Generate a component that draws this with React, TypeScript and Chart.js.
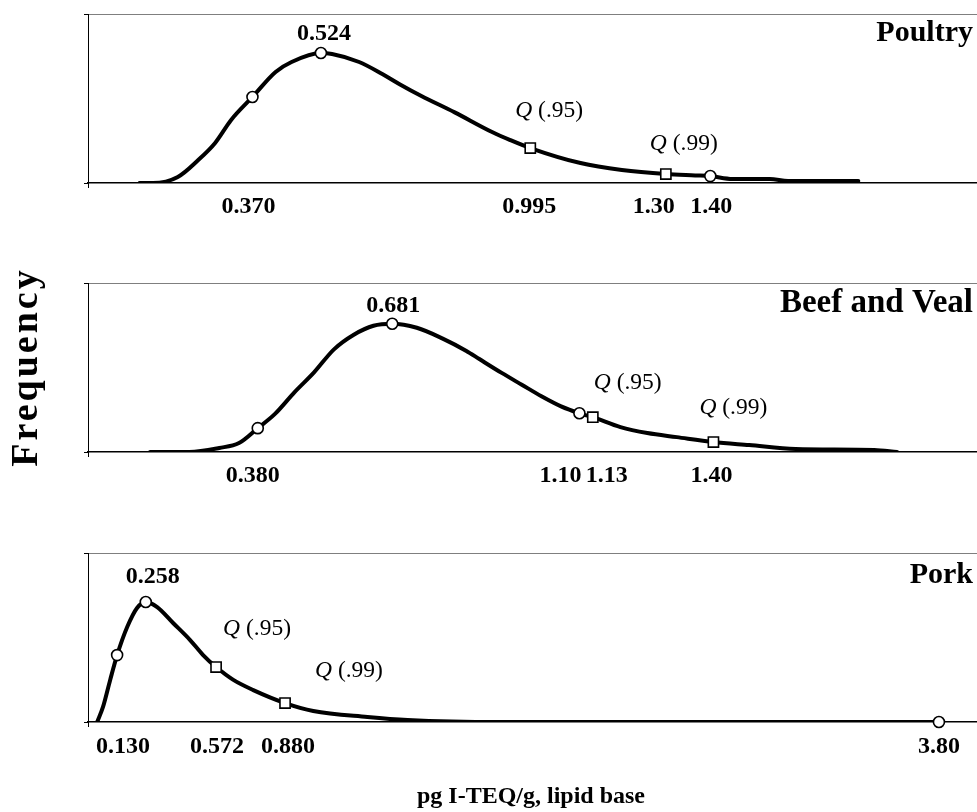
import React, { useEffect, useRef } from 'react';
import { Chart, registerables } from 'chart.js';

Chart.register(...registerables);

const SERIF = '"Liberation Serif", "Times New Roman", Times, serif';

// ---------- Poultry ----------
const poultryCurveX = [0.116, 0.146, 0.202, 0.248, 0.286, 0.322, 0.370, 0.422, 0.458, 0.524, 0.549, 0.610, 0.662, 0.701, 0.750, 0.825, 0.909, 0.950, 0.995, 1.108, 1.201, 1.30, 1.366, 1.40, 1.45, 1.534, 1.575, 1.733];
const poultryCurveY = [0, 0, 0.036, 0.136, 0.237, 0.373, 0.509, 0.657, 0.716, 0.769, 0.763, 0.716, 0.645, 0.585, 0.515, 0.418, 0.302, 0.254, 0.207, 0.118, 0.077, 0.053, 0.045, 0.041, 0.024, 0.024, 0.012, 0.012];
const poultryCircles = [0.370, 0.524, 1.40];
const poultrySquares = [0.995, 1.30];
const poultryValueLabels = ['0.370', '0.524', '0.995', '1.30', '1.40'];
const poultryValueAt = [0.370, 0.524, 0.995, 1.30, 1.40];

// ---------- Beef and Veal ----------
const beefCurveX = [0.139, 0.227, 0.294, 0.338, 0.380, 0.418, 0.462, 0.506, 0.550, 0.595, 0.639, 0.681, 0.736, 0.794, 0.847, 0.876, 0.926, 0.971, 1.015, 1.059, 1.10, 1.13, 1.192, 1.252, 1.318, 1.40, 1.480, 1.584, 1.760, 1.811];
const beefCurveY = [0, 0, 0.024, 0.053, 0.141, 0.224, 0.353, 0.471, 0.606, 0.694, 0.747, 0.759, 0.735, 0.671, 0.598, 0.550, 0.468, 0.398, 0.330, 0.270, 0.229, 0.206, 0.147, 0.112, 0.088, 0.059, 0.041, 0.018, 0.012, 0];
const beefCircles = [0.380, 0.681, 1.10];
const beefSquares = [1.13, 1.40];
const beefValueLabels = ['0.380', '0.681', '1.10', '1.13', '1.40'];
const beefValueAt = [0.380, 0.681, 1.10, 1.13, 1.40];

// ---------- Pork ----------
const porkCurveX = [0.041, 0.067, 0.099, 0.130, 0.175, 0.219, 0.258, 0.309, 0.380, 0.456, 0.514, 0.572, 0.649, 0.738, 0.880, 1.006, 1.248, 1.427, 1.842, 3.80];
const porkCurveY = [0, 0.089, 0.249, 0.396, 0.562, 0.675, 0.710, 0.680, 0.586, 0.485, 0.396, 0.325, 0.249, 0.189, 0.112, 0.065, 0.030, 0.012, 0, 0];
const porkCircles = [0.130, 0.258, 3.80];
const porkSquares = [0.572, 0.880];
const porkValueLabels = ['0.130', '0.258', '0.572', '0.880', '3.80'];
const porkValueAt = [0.130, 0.258, 0.572, 0.880, 3.80];

const quantileLabels = ['(.95)', '(.99)'];
const yAxisLabel = 'Frequency';
const xAxisLabel = 'pg I-TEQ/g, lipid base';

type Place = { mode: 'above' | 'below'; dx: number; dy: number };
type QPlace = { dx: number; dy: number };

interface PanelSpec {
  title: string;
  titleSize: number;
  titleDy: number;
  xMax: number;
  curveX: number[];
  curveY: number[];
  circles: number[];
  squares: number[];
  valueLabels: string[];
  valueAt: number[];
  valuePlace: Place[];
  qPlace: QPlace[];
}

function yAt(xs: number[], ys: number[], v: number): number {
  const i = xs.indexOf(v);
  return i >= 0 ? ys[i] : 0;
}

const panels: PanelSpec[] = [
  {
    title: 'Poultry', titleSize: 30, titleDy: 27, xMax: 2.0,
    curveX: poultryCurveX, curveY: poultryCurveY,
    circles: poultryCircles, squares: poultrySquares,
    valueLabels: poultryValueLabels, valueAt: poultryValueAt,
    valuePlace: [
      { mode: 'below', dx: -4, dy: 30 },
      { mode: 'above', dx: 3, dy: -13 },
      { mode: 'below', dx: -1, dy: 30 },
      { mode: 'below', dx: -12, dy: 30 },
      { mode: 'below', dx: 1, dy: 30 },
    ],
    qPlace: [{ dx: -15, dy: -31 }, { dx: -16, dy: -24 }],
  },
  {
    title: 'Beef and Veal', titleSize: 33, titleDy: 29, xMax: 1.99,
    curveX: beefCurveX, curveY: beefCurveY,
    circles: beefCircles, squares: beefSquares,
    valueLabels: beefValueLabels, valueAt: beefValueAt,
    valuePlace: [
      { mode: 'below', dx: -5, dy: 30 },
      { mode: 'above', dx: 1, dy: -12 },
      { mode: 'below', dx: -19, dy: 30 },
      { mode: 'below', dx: 14, dy: 30 },
      { mode: 'below', dx: -2, dy: 30 },
    ],
    qPlace: [{ dx: 1, dy: -28 }, { dx: -14, dy: -28 }],
  },
  {
    title: 'Pork', titleSize: 30, titleDy: 30, xMax: 3.97,
    curveX: porkCurveX, curveY: porkCurveY,
    circles: porkCircles, squares: porkSquares,
    valueLabels: porkValueLabels, valueAt: porkValueAt,
    valuePlace: [
      { mode: 'below', dx: 6, dy: 31 },
      { mode: 'above', dx: 7, dy: -19 },
      { mode: 'below', dx: 1, dy: 31 },
      { mode: 'below', dx: 3, dy: 31 },
      { mode: 'below', dx: 0, dy: 31 },
    ],
    qPlace: [{ dx: 7, dy: -32 }, { dx: 30, dy: -26 }],
  },
];

const CANVAS_W = 977;
const CANVAS_H = 270;
const PANEL_TOPS = [0, 269, 539];

function Panel({ spec, top }: { spec: PanelSpec; top: number }) {
  const ref = useRef<HTMLCanvasElement | null>(null);

  useEffect(() => {
    if (!ref.current) return;
    const curve = spec.curveX.map((x, i) => ({ x, y: spec.curveY[i] }));
    const circ = spec.circles.map((x) => ({ x, y: yAt(spec.curveX, spec.curveY, x) }));
    const sq = spec.squares.map((x) => ({ x, y: yAt(spec.curveX, spec.curveY, x) }));

    const labelPlugin = {
      id: 'panelLabels',
      afterDatasetsDraw(chart: any) {
        const { ctx, chartArea } = chart;
        const xs = chart.scales.x;
        const ys = chart.scales.y;
        ctx.save();
        ctx.fillStyle = '#000';
        ctx.textBaseline = 'alphabetic';
        // panel title
        ctx.font = `bold ${spec.titleSize}px ${SERIF}`;
        ctx.textAlign = 'right';
        ctx.fillText(spec.title, chartArea.right - 4, chartArea.top + spec.titleDy);
        // value labels
        ctx.font = `bold 24px ${SERIF}`;
        ctx.textAlign = 'center';
        spec.valueLabels.forEach((t, i) => {
          const p = spec.valuePlace[i];
          const v = spec.valueAt[i];
          const px = xs.getPixelForValue(v) + p.dx;
          const py = p.mode === 'below'
            ? chartArea.bottom + p.dy
            : ys.getPixelForValue(yAt(spec.curveX, spec.curveY, v)) + p.dy;
          ctx.fillText(t, px, py);
        });
        // quantile labels
        ctx.textAlign = 'left';
        spec.squares.forEach((v, i) => {
          const p = spec.qPlace[i];
          const px = xs.getPixelForValue(v) + p.dx;
          const py = ys.getPixelForValue(yAt(spec.curveX, spec.curveY, v)) + p.dy;
          ctx.font = `italic 23.5px ${SERIF}`;
          ctx.fillText('Q', px, py);
          const w = ctx.measureText('Q').width;
          ctx.font = `23.5px ${SERIF}`;
          ctx.fillText(' ' + quantileLabels[i], px + w, py);
        });
        ctx.restore();
      },
    };

    const chart = new Chart(ref.current, {
      type: 'scatter',
      data: {
        datasets: [
          {
            data: curve,
            order: 3,
            showLine: true,
            borderColor: '#000',
            borderWidth: 4,
            pointRadius: 0,
            cubicInterpolationMode: 'monotone',
            borderCapStyle: 'round',
            borderJoinStyle: 'round',
            fill: false,
          } as any,
          {
            data: circ,
            order: 1,
            showLine: false,
            pointStyle: 'circle',
            pointRadius: 5.5,
            pointBackgroundColor: '#fff',
            pointBorderColor: '#000',
            pointBorderWidth: 1.6,
            clip: false,
          } as any,
          {
            data: sq,
            order: 1,
            showLine: false,
            pointStyle: 'rect',
            pointRadius: 7.2,
            pointBackgroundColor: '#fff',
            pointBorderColor: '#000',
            pointBorderWidth: 1.6,
            clip: false,
          } as any,
        ],
      },
      options: {
        animation: false,
        responsive: false,
        events: [],
        layout: {
          autoPadding: false,
          padding: { left: 84, top: 14, right: 0, bottom: CANVAS_H - 183 - 5 },
        },
        plugins: { legend: { display: false }, tooltip: { enabled: false } },
        scales: {
          x: {
            type: 'linear',
            min: 0,
            max: spec.xMax,
            afterBuildTicks: (s: any) => { s.ticks = [{ value: 0 }]; },
            ticks: { display: false },
            grid: { display: true, drawOnChartArea: false, drawTicks: true, tickLength: 5, color: '#000', tickColor: '#000', lineWidth: 1 },
            border: { display: true, color: '#000', width: 1.5 },
          },
          y: {
            type: 'linear',
            min: 0,
            max: 1,
            afterBuildTicks: (s: any) => { s.ticks = [{ value: 0 }, { value: 1 }]; },
            ticks: { display: false },
            grid: {
              display: true,
              drawOnChartArea: true,
              drawTicks: true,
              tickLength: 4,
              color: (c: any) => (c.tick && c.tick.value === 1 ? '#7f7f7f' : 'rgba(0,0,0,0)'),
              tickColor: '#000',
              lineWidth: 1,
            },
            border: { display: true, color: '#000', width: 1 },
          },
        },
      } as any,
      plugins: [labelPlugin],
    });
    return () => chart.destroy();
  }, [spec]);

  return (
    <canvas
      ref={ref}
      width={CANVAS_W}
      height={CANVAS_H}
      style={{ position: 'absolute', left: 0, top, width: CANVAS_W, height: CANVAS_H, display: 'block' }}
    />
  );
}

export default function App() {
  return (
    <div style={{ position: 'absolute', left: 0, top: 0, width: 977, height: 812, background: '#fff', overflow: 'hidden' }}>
      {panels.map((p, i) => (
        <Panel key={p.title} spec={p} top={PANEL_TOPS[i]} />
      ))}
      <div
        style={{
          position: 'absolute',
          left: 24 - 120,
          top: 367 - 19,
          width: 240,
          height: 38,
          lineHeight: '38px',
          fontSize: 38,
          fontWeight: 'bold',
          fontFamily: SERIF,
          letterSpacing: '3px',
          textAlign: 'center',
          transform: 'rotate(-90deg)',
          whiteSpace: 'nowrap',
          color: '#000',
        }}
      >
        {yAxisLabel}
      </div>
      <div
        style={{
          position: 'absolute',
          left: 531 - 200,
          top: 783,
          width: 400,
          height: 24,
          lineHeight: '24px',
          fontSize: 24,
          fontWeight: 'bold',
          fontFamily: SERIF,
          textAlign: 'center',
          whiteSpace: 'nowrap',
          color: '#000',
        }}
      >
        {xAxisLabel}
      </div>
    </div>
  );
}
